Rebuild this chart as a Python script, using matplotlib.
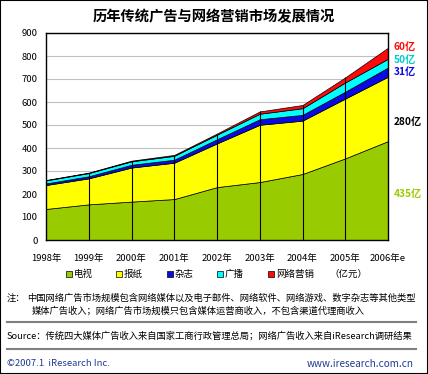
import matplotlib.pyplot as plt
from matplotlib.patches import Rectangle
from matplotlib.lines import Line2D

plt.rcParams['font.family'] = ['Noto Sans CJK SC', 'DejaVu Sans']

W, H = 428, 374

years = ['1998年', '1999年', '2000年', '2001年', '2002年', '2003年', '2004年', '2005年', '2006年e']
tv = [135, 155, 167, 178, 230, 252, 287, 355, 430]
newspaper = [104, 113, 148, 158, 190, 249, 232, 260, 280]
magazine = [7, 9, 12, 13, 18, 24, 25, 30, 40]
radio = [13, 14, 15, 17, 20, 24, 29, 40, 38]
online = [2, 2, 3, 4, 5, 10, 14, 22, 48]

series_names = ['电视', '报纸', '杂志', '广播', '网络营销']
colors = ['#99cc00', '#ffff00', '#0a0ae6', '#00ffff', '#ff0a0a']

end_labels = ['435亿', '280亿', '31亿', '50亿', '60亿']
end_label_y = [194, 122, 72.5, 59.5, 47]
end_label_colors = ['#99cc00', 'black', '#0a0ae6', '#00cccc', '#ff0a0a']


def px(x, y):
    # pixel coords (top-left origin) -> figure fraction
    return x / W, 1 - y / H


fig = plt.figure(figsize=(W / 100, H / 100), dpi=100)
fig.patches.append(Rectangle((0, 0), 1, 1, transform=fig.transFigure,
                             fill=False, edgecolor='black', linewidth=1.5))

left, top, right, bottom = 46, 33, 388, 240
ax = fig.add_axes([left / W, 1 - bottom / H, (right - left) / W, (bottom - top) / H])

xs = list(range(len(years)))
ax.stackplot(xs, tv, newspaper, magazine, radio, online, colors=colors,
             edgecolor='black', linewidth=0.5, zorder=2)

totals = [sum(v) for v in zip(tv, newspaper, magazine, radio, online)]
ax.vlines(xs[1:-1], 0, totals[1:-1], color='black', linewidth=0.8, zorder=3)

ax.set_xlim(0, len(years) - 1)
ax.set_ylim(0, 900)
ax.set_yticks(range(0, 901, 100))
ax.yaxis.grid(True, color='#c0c0c0', linewidth=0.8, zorder=0)
ax.set_axisbelow(True)
ax.set_xticks(xs)
ax.set_xticklabels(years)
ax.tick_params(axis='both', length=0, labelsize=6.8)
ax.tick_params(axis='y', pad=6)
ax.tick_params(axis='x', pad=10)
for s in ax.spines.values():
    s.set_linewidth(1.0)

# title
fig.text(*px(214, 17), '历年传统广告与网络营销市场发展情况', ha='center', va='center',
         fontsize=10.3, fontweight='bold')

# labels at the right end
for lab, yy, c in zip(end_labels, end_label_y, end_label_colors):
    fig.text(*px(394, yy), lab, ha='left', va='center', fontsize=7.3,
             fontweight='bold', color=c)

# legend
sq_x = [66, 116, 167, 217, 268]
for xx, name, c in zip(sq_x, series_names, colors):
    fig.patches.append(Rectangle(px(xx, 277), 6 / W, 6 / H, transform=fig.transFigure,
                                 facecolor=c, edgecolor='black', linewidth=0.5))
    fig.text(*px(xx + 8, 274), name, ha='left', va='center', fontsize=6.8)
fig.text(*px(329, 274), '（亿元）', ha='left', va='center', fontsize=6.8)

# note
fig.text(*px(7, 298), '注：', ha='left', va='center', fontsize=6.7)
fig.text(*px(27, 298), '中国网络广告市场规模包含网络媒体以及电子邮件、网络软件、网络游戏、数字杂志等其他类型',
         ha='left', va='center', fontsize=6.7)
fig.text(*px(32, 311), '媒体广告收入；网络广告市场规模只包含媒体运营商收入，不包含渠道代理商收入',
         ha='left', va='center', fontsize=6.7)

for yy in (322, 349):
    fig.lines.append(Line2D([7 / W, 416 / W], [1 - yy / H] * 2, transform=fig.transFigure,
                            color='#7f7f7f', linewidth=1.5))

fig.text(*px(7, 336), 'Source：传统四大媒体广告收入来自国家工商行政管理总局；网络广告收入来自iResearch调研结果',
         ha='left', va='center', fontsize=6.7)

fig.text(*px(7, 364), '©2007.1  iResearch Inc.', ha='left', va='center', fontsize=6.8,
         color='#1f3a93')
fig.text(*px(414, 364), 'www.iresearch.com.cn', ha='right', va='center', fontsize=7.2,
         color='#1f3a93')

fig.savefig('out.png', dpi=100)
